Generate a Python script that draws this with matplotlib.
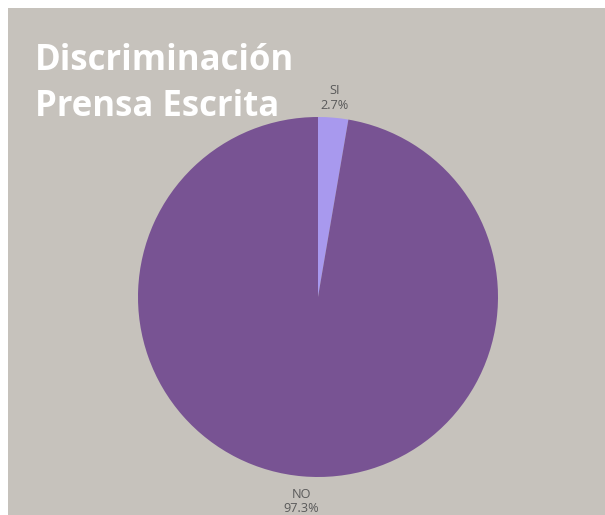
import matplotlib
matplotlib.use("Agg")
import matplotlib.pyplot as plt
from matplotlib.patches import Rectangle

categories = ["SI", "NO"]
values = [2.7, 97.3]
colors = ["#A899EE", "#785393"]
title = "Discriminación\nPrensa Escrita"

W, H = 605, 515
fig = plt.figure(figsize=(W / 100, H / 100), dpi=100, facecolor="white")
bg = Rectangle((8 / W, 0), 1 - 8 / W, 1 - 8 / H, transform=fig.transFigure,
               facecolor="#C6C2BC", edgecolor="none", zorder=-10)
fig.patches.append(bg)

cx, cy, r = 318, 297, 180
ax = fig.add_axes([(cx - r) / W, (H - cy - r) / H, 2 * r / W, 2 * r / H])
ax.set_zorder(5)
ax.set_facecolor("none")
labels = [f"{c}\n{v}%" for c, v in zip(categories, values)]
wedges, texts = ax.pie(values, labels=labels, colors=colors, startangle=90,
                       counterclock=False, labeldistance=1.11,
                       wedgeprops=dict(linewidth=0),
                       textprops=dict(fontsize=9.2, color="#5A5A5A",
                                      family=["Open Sans", "DejaVu Sans"],
                                      linespacing=1.15))
for t in texts:
    t.set_ha("center")
    t.set_multialignment("center")
x, y = texts[1].get_position()
texts[1].set_position((x, y - 0.03))
ax.set_xlim(-1, 1)
ax.set_ylim(-1, 1)
ax.set_aspect("equal")
ax.axis("off")

fig.text(35 / W, 1 - 43 / H, title, ha="left", va="top", fontsize=25,
         fontweight="bold", color="white", family=["Open Sans", "DejaVu Sans"],
         linespacing=1.36, zorder=10)

fig.savefig("out.png", dpi=100, facecolor="white")
